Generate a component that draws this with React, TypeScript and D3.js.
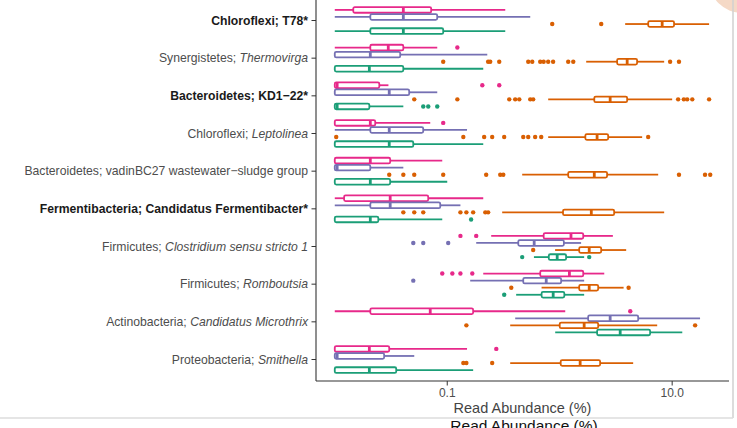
import React from "react";
import * as d3 from "d3";

const categories = [
  "Chloroflexi; T78*",
  "Synergistetes; Thermovirga",
  "Bacteroidetes; KD1\u221222*",
  "Chloroflexi; Leptolinea",
  "Bacteroidetes; vadinBC27 wastewater\u2212sludge group",
  "Fermentibacteria; Candidatus Fermentibacter*",
  "Firmicutes; Clostridium sensu stricto 1",
  "Firmicutes; Romboutsia",
  "Actinobacteria; Candidatus Microthrix",
  "Proteobacteria; Smithella",
];
// bold rows, and rows whose genus part is italic
const boldLabels = [true, false, true, false, false, true, false, false, false, false];
const italicGenus = [false, true, false, true, false, false, true, true, true, true];

const groups = ["pink", "purple", "orange", "green"];
const groupColors = ["#E7298A", "#7570B3", "#D95F02", "#1B9E77"];

// [lower whisker, q1, median, q3, upper whisker] per category, in %
const pinkBoxes = [
  [0.01, 0.0146, 0.0407, 0.072, 0.328],
  [0.01, 0.0207, 0.0299, 0.0407, 0.0815],
  [0.01, 0.01, 0.0105, 0.0249, 0.03],
  [0.01, 0.01, 0.0207, 0.0229, 0.0706],
  [0.01, 0.01, 0.0207, 0.0311, 0.0903],
  [0.01, 0.0121, 0.0311, 0.0678, 0.209],
  [0.246, 0.72, 1.26, 1.62, 2.97],
  [0.209, 0.671, 1.22, 1.62, 2.49],
  [0.01, 0.0207, 0.0706, 0.17, 1.12],
  [0.01, 0.01, 0.0203, 0.0305, 0.15],
];
const pinkOutliers = [
  [], [0.123], [0.205, 0.29], [0.0921], [], [],
  [0.131, 0.181], [0.0903, 0.111, 0.131, 0.167], [4.24], [0.273],
];

const purpleBoxes = [
  [0.01, 0.0207, 0.0407, 0.0815, 0.547],
  [0.01, 0.01, 0.0207, 0.0382, 0.227],
  [0.01, 0.01, 0.0305, 0.0459, 0.0815],
  [0.01, 0.0207, 0.0305, 0.0612, 0.15],
  [0.01, 0.01, 0.0105, 0.0207, 0.0407],
  [0.01, 0.0207, 0.0311, 0.0867, 0.131],
  [0.181, 0.428, 0.593, 1.09, 1.55],
  [0.16, 0.474, 0.759, 1.03, 1.65],
  [0.402, 1.79, 2.81, 4.99, 17.7],
  [0.01, 0.01, 0.0105, 0.0275, 0.0509],
];
const purpleOutliers = [
  [], [], [], [], [], [],
  [0.0499, 0.0612, 0.102], [0.0499], [], [],
];

const orangeBoxes = [
  [3.82, 6.12, 8.15, 10.4, 21.3],
  [1.72, 3.24, 3.98, 4.88, 8.49],
  [0.79, 2.03, 2.81, 3.98, 10],
  [0.79, 1.69, 2.15, 2.7, 5.41],
  [0.464, 1.19, 2.03, 2.64, 7.51],
  [0.308, 1.07, 1.91, 3.05, 8.49],
  [0.91, 1.49, 1.83, 2.34, 3.9],
  [0.69, 1.49, 1.83, 2.2, 3.7],
  [0.363, 1.0, 1.65, 2.2, 7.36],
  [0.363, 1.02, 1.52, 2.29, 4.5],
];
const orangeOutliers = [
  [0.858, 2.34],
  [0.0921, 0.231, 0.241, 0.29, 0.525, 0.57, 0.671, 0.72, 0.79, 0.874, 1.19, 1.32, 9.59, 11.5],
  [0.0509, 0.123, 0.356, 0.402, 0.437, 0.547, 0.581, 11.3, 12.7, 13.6, 15.1, 21.3],
  [0.0103, 0.139, 0.213, 0.251, 0.321, 0.474, 0.525, 0.605, 0.685, 6.12],
  [0.0305, 0.0407, 0.0509, 0.0921, 0.222, 0.296, 0.315, 11.5, 19.6, 21.8],
  [0.0407, 0.0509, 0.0612, 0.131, 0.148, 0.17, 0.218, 0.231],
  [0.581],
  [0.371, 4.1],
  [0.148, 16.0],
  [0.139, 0.148, 0.251],
];

const greenBoxes = [
  [0.01, 0.0207, 0.0407, 0.0921, 0.328],
  [0.01, 0.01, 0.0203, 0.0407, 0.209],
  [0.01, 0.01, 0.0105, 0.0203, 0.0407],
  [0.01, 0.01, 0.0305, 0.0499, 0.209],
  [0.01, 0.01, 0.0207, 0.0311, 0.1],
  [0.01, 0.01, 0.0207, 0.0244, 0.0903],
  [0.59, 0.8, 0.95, 1.14, 1.65],
  [0.41, 0.69, 0.875, 1.1, 1.65],
  [0.912, 2.15, 3.45, 6.37, 12.3],
  [0.01, 0.01, 0.0203, 0.0352, 0.17],
];
const greenOutliers = [
  [], [], [0.0612, 0.0678, 0.0815], [], [], [0.163],
  [0.464, 1.83], [0.321], [], [],
];

const xTicks = [0.1, 10];

const boxesByGroup = [pinkBoxes, purpleBoxes, orangeBoxes, greenBoxes];
const outliersByGroup = [pinkOutliers, purpleOutliers, orangeOutliers, greenOutliers];

const font = "'Liberation Sans', Arial, sans-serif";

export default function App() {
  const width = 737,
    height = 428;
  const left = 316,
    right = 729,
    bottom = 381;

  const allVals = boxesByGroup.flat(2).concat(outliersByGroup.flat(2));
  const [lo, hi] = d3.extent(allVals.map(v => Math.log10(v))) as [number, number];
  const pad = (hi - lo) * 0.05;
  const x = d3
    .scaleLog()
    .domain([Math.pow(10, lo - pad), Math.pow(10, hi + pad)])
    .range([left, right]);

  const y = d3.scalePoint().domain(categories).range([20.5, 359.5]);
  const step = y.step();
  const dodge = d3
    .scaleBand()
    .domain(groups)
    .range([-step * 0.375, step * 0.375]);
  const bh = dodge.bandwidth() - 1.4;

  return (
    <svg
      width={width}
      height={height}
      style={{ position: "absolute", left: 0, top: 0, background: "#fff" }}
      fontFamily={font}
    >
      <circle cx={742} cy={-20} r={33} fill="#f5d9c6" />

      {categories.map((cat, i) =>
        groups.map((g, gi) => {
          const [w0, q1, med, q3, w1] = boxesByGroup[gi][i];
          const cy = (y(cat) as number) + (dodge(g) as number) + dodge.bandwidth() / 2;
          const col = groupColors[gi];
          return (
            <g key={cat + g}>
              <line x1={x(w0)} x2={x(q1)} y1={cy} y2={cy} stroke={col} strokeWidth={1.8} />
              <line x1={x(q3)} x2={x(w1)} y1={cy} y2={cy} stroke={col} strokeWidth={1.8} />
              <rect
                x={x(q1)}
                y={cy - bh / 2}
                width={Math.max(x(q3) - x(q1), 0.5)}
                height={bh}
                rx={1.5}
                fill="#fff"
                stroke={col}
                strokeWidth={1.8}
              />
              <line
                x1={x(med)}
                x2={x(med)}
                y1={cy - bh / 2}
                y2={cy + bh / 2}
                stroke={col}
                strokeWidth={2.8}
              />
              {outliersByGroup[gi][i].map((v, k) => (
                <circle key={k} cx={x(v)} cy={cy} r={2.2} fill={col} />
              ))}
            </g>
          );
        })
      )}

      {/* axes */}
      <line x1={left} x2={left} y1={-3} y2={bottom} stroke="#333" strokeWidth={1.1} />
      <line x1={left} x2={right} y1={bottom} y2={bottom} stroke="#333" strokeWidth={1.1} />
      {categories.map((cat, i) => {
        const cy = y(cat) as number;
        const [phylum, genus] = cat.split("; ");
        return (
          <g key={cat}>
            <line x1={left - 4.5} x2={left} y1={cy} y2={cy} stroke="#333" strokeWidth={1} />
            <text
              x={left - 8}
              y={cy}
              dy="0.35em"
              textAnchor="end"
              fontSize={12.2}
              fill={boldLabels[i] ? "#1a1a1a" : "#4d4d4d"}
              fontWeight={boldLabels[i] ? "bold" : "normal"}
            >
              <tspan>{phylum}; </tspan>
              <tspan fontStyle={italicGenus[i] ? "italic" : "normal"}>{genus}</tspan>
            </text>
          </g>
        );
      })}
      {xTicks.map(t => (
        <g key={t}>
          <line x1={x(t)} x2={x(t)} y1={bottom} y2={bottom + 4.5} stroke="#333" strokeWidth={1} />
          <text x={x(t)} y={397} textAnchor="middle" fontSize={12} fill="#4d4d4d">
            {d3.format(".1f")(t)}
          </text>
        </g>
      ))}
      <text x={(left + right) / 2} y={413} textAnchor="middle" fontSize={14.5} fill="#444">
        Read Abundance (%)
      </text>

      {/* screenshot frame */}
      <line x1={733} x2={733} y1={0} y2={418} stroke="#d0d0d0" strokeWidth={1.5} />
      <line x1={0} x2={733} y1={418} y2={418} stroke="#dddddd" strokeWidth={1.5} />
      <text x={524} y={431} textAnchor="middle" fontSize={15.5} fill="#111">
        Read Abundance (%)
      </text>
    </svg>
  );
}
